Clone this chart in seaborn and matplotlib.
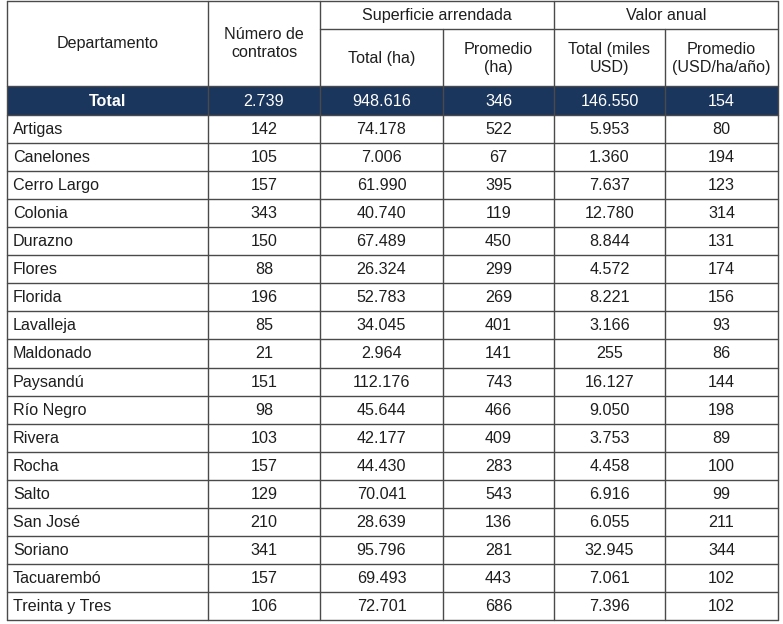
import matplotlib
matplotlib.use("Agg")
import matplotlib.pyplot as plt
import seaborn as sns
from matplotlib.patches import Rectangle

sns.set_theme(style="white")
plt.rcParams['font.family'] = ['Liberation Sans', 'DejaVu Sans']

departamentos = ["Artigas", "Canelones", "Cerro Largo", "Colonia", "Durazno", "Flores",
                 "Florida", "Lavalleja", "Maldonado", "Paysandú", "Río Negro", "Rivera",
                 "Rocha", "Salto", "San José", "Soriano", "Tacuarembó", "Treinta y Tres"]
contratos = ["142", "105", "157", "343", "150", "88", "196", "85", "21", "151", "98", "103",
             "157", "129", "210", "341", "157", "106"]
sup_total = ["74.178", "7.006", "61.990", "40.740", "67.489", "26.324", "52.783", "34.045",
             "2.964", "112.176", "45.644", "42.177", "44.430", "70.041", "28.639", "95.796",
             "69.493", "72.701"]
sup_prom = ["522", "67", "395", "119", "450", "299", "269", "401", "141", "743", "466", "409",
            "283", "543", "136", "281", "443", "686"]
val_total = ["5.953", "1.360", "7.637", "12.780", "8.844", "4.572", "8.221", "3.166", "255",
             "16.127", "9.050", "3.753", "4.458", "6.916", "6.055", "32.945", "7.061", "7.396"]
val_prom = ["80", "194", "123", "314", "131", "174", "156", "93", "86", "144", "198", "89",
            "100", "99", "211", "344", "102", "102"]
total_row = ["Total", "2.739", "948.616", "346", "146.550", "154"]

group_headers = ["Superficie arrendada", "Valor anual"]
col_headers = ["Departamento", "Número de\ncontratos", "Total (ha)", "Promedio\n(ha)",
               "Total (miles\nUSD)", "Promedio\n(USD/ha/año)"]

W, H = 783, 624
fig = plt.figure(figsize=(W / 100, H / 100), dpi=100)
ax = fig.add_axes([0, 0, 1, 1])
ax.set_xlim(0, W)
ax.set_ylim(H, 0)
ax.axis("off")

xs = [7, 208, 320, 443, 554, 665, 778]
y_top, y_sub, y_head, y_tot = 1, 29, 86, 115
row_h = (620 - y_tot) / len(departamentos)
navy = "#1b365d"
line_c = "#4a4a4a"
txt_c = "#1e1e1e"
fs = 11.6
lw = 1.0
ls = 1.25

# total row background
ax.add_patch(Rectangle((xs[0], y_head), xs[-1] - xs[0], y_tot - y_head, facecolor=navy,
                       edgecolor="none", zorder=1))

# horizontal lines
ax.plot([xs[0], xs[-1]], [y_top, y_top], color=line_c, lw=lw, zorder=2)
ax.plot([xs[2], xs[-1]], [y_sub, y_sub], color=line_c, lw=lw, zorder=2)
ax.plot([xs[0], xs[-1]], [y_head, y_head], color=line_c, lw=lw, zorder=2)
ax.plot([xs[0], xs[-1]], [y_tot, y_tot], color=line_c, lw=lw, zorder=2)
y_bot = y_tot + row_h * len(departamentos)
for i in range(1, len(departamentos) + 1):
    y = y_tot + row_h * i
    ax.plot([xs[0], xs[-1]], [y, y], color=line_c, lw=lw, zorder=2)

# vertical lines
for j, x in enumerate(xs):
    ytop = y_sub if j in (3, 5) else y_top
    ax.plot([x, x], [ytop, y_bot], color=line_c, lw=lw, zorder=2)

# headers
ax.text((xs[0] + xs[1]) / 2, (y_top + y_head) / 2, col_headers[0], ha="center", va="center",
        fontsize=fs, color=txt_c)
ax.text((xs[1] + xs[2]) / 2, (y_top + y_head) / 2, col_headers[1], ha="center", va="center",
        fontsize=fs, color=txt_c, linespacing=ls)
ax.text((xs[2] + xs[4]) / 2, (y_top + y_sub) / 2 + 0.5, group_headers[0], ha="center",
        va="center", fontsize=fs, color=txt_c)
ax.text((xs[4] + xs[6]) / 2, (y_top + y_sub) / 2 + 0.5, group_headers[1], ha="center",
        va="center", fontsize=fs, color=txt_c)
for j in range(2, 6):
    ax.text((xs[j] + xs[j + 1]) / 2, (y_sub + y_head) / 2 + 1, col_headers[j], ha="center",
            va="center", fontsize=fs, color=txt_c, linespacing=ls)

# total row
for j, v in enumerate(total_row):
    ax.text((xs[j] + xs[j + 1]) / 2, (y_head + y_tot) / 2 + 0.5, v, ha="center", va="center",
            fontsize=fs, color="white", fontweight="bold" if j == 0 else "normal", zorder=3)

# body
cols = [contratos, sup_total, sup_prom, val_total, val_prom]
for i, d in enumerate(departamentos):
    yc = y_tot + row_h * (i + 0.5) + 0.5
    ax.text(xs[0] + 6, yc, d, ha="left", va="center", fontsize=fs, color=txt_c)
    for j, col in enumerate(cols, start=1):
        ax.text((xs[j] + xs[j + 1]) / 2, yc, col[i], ha="center", va="center", fontsize=fs,
                color=txt_c)

fig.savefig("out.png", dpi=100, facecolor="white")
